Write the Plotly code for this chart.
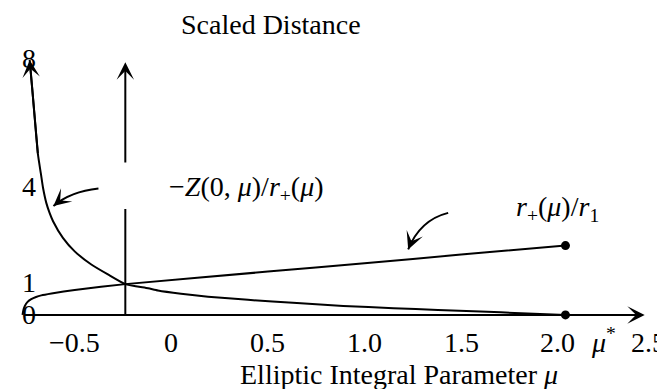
import plotly.graph_objects as go

# ---------------- data ----------------
mu_r = [-0.77, -0.766, -0.758, -0.745, -0.725, -0.70, -0.673, -0.62, -0.50, -0.238, 0.5, 1.0, 1.5, 2.04]
r_plus_ratio = [0.0, 0.14, 0.28, 0.40, 0.49, 0.56, 0.61, 0.67, 0.78, 0.96, 1.35, 1.61, 1.88, 2.16]

mu_z = [-0.733, -0.719, -0.705, -0.690, -0.675, -0.664, -0.647, -0.630, -0.612, -0.561, -0.500,
        -0.414, -0.328, -0.238, -0.12, -0.069, 0.05, 0.19, 0.397, 0.65, 0.89, 1.15, 1.38, 1.60, 1.81, 2.04]
z_scaled = [7.94, 7.00, 6.00, 4.99, 4.40, 3.96, 3.49, 3.18, 2.92, 2.40, 1.98,
            1.57, 1.26, 0.96, 0.83, 0.76, 0.66, 0.57, 0.47, 0.37, 0.28, 0.21, 0.155, 0.105, 0.055, 0.0]

x_tick_vals = [-0.5, 0, 0.5, 1.0, 1.5, 2.0, 2.5]
x_tick_text = ["\u22120.5", "0", "0.5", "1.0", "1.5", "2.0", "2.5"]
y_tick_vals = [0, 1, 4, 8]
y_tick_text = ["0", "1", "4", "8"]

axis_mu = -0.238          # position of the vertical axis
x_axis_start, x_axis_end = -0.77, 2.45
y_axis_top = 7.87
y_gap = (3.30, 4.70)      # gap in the vertical axis around the label

FONT = "Liberation Serif"
FS = 28
BLACK = "black"

W, H, L, R, T, B = 665, 389, 1, 9, 34, 66
PH = H - T - B


def paper_y(px):
    return (H - B - px) / PH


fig = go.Figure()

fig.add_trace(go.Scatter(x=mu_r, y=r_plus_ratio, mode="lines",
                         line=dict(color=BLACK, width=2, shape="spline", smoothing=0.5),
                         cliponaxis=False, hoverinfo="skip"))
fig.add_trace(go.Scatter(x=mu_z, y=z_scaled, mode="lines",
                         line=dict(color=BLACK, width=2, shape="spline", smoothing=0.5),
                         cliponaxis=False, hoverinfo="skip"))
fig.add_trace(go.Scatter(x=[mu_r[-1], mu_z[-1]], y=[r_plus_ratio[-1], z_scaled[-1]], mode="markers",
                         marker=dict(color=BLACK, size=9), cliponaxis=False, hoverinfo="skip"))

ann = []
shapes = []


def arrow(xh, yh, xt, yt, **kw):
    d = dict(x=xh, y=yh, ax=xt, ay=yt, xref="x", yref="y", axref="x", ayref="y",
             text="", showarrow=True, arrowhead=3, arrowwidth=2, arrowsize=1.45,
             arrowcolor=BLACK, standoff=0, startstandoff=0)
    d.update(kw)
    return d


# x axis with arrow
ann.append(arrow(x_axis_end, 0, x_axis_start, 0))
# vertical axis: lower segment + upper segment with arrow
shapes.append(dict(type="line", xref="x", yref="y", x0=axis_mu, x1=axis_mu, y0=0, y1=y_gap[0],
                   line=dict(color=BLACK, width=2)))
ann.append(arrow(axis_mu, y_axis_top, axis_mu, y_gap[1]))
# arrowhead at top of the -Z curve
ann.append(arrow(mu_z[0], z_scaled[0], mu_z[3], z_scaled[3]))

# curved pointer arrows (quadratic Bezier) in data coordinates
curved = [
    ((-0.377, 3.935), (-0.522, 3.84), (-0.61, 3.39)),
    ((1.433, 3.178), (1.288, 2.96), (1.226, 2.04)),
]
for (sx, sy), (cx, cy), (ex, ey) in curved:
    shapes.append(dict(type="path", xref="x", yref="y",
                       path=f"M {sx},{sy} Q {cx},{cy} {ex},{ey}",
                       line=dict(color=BLACK, width=2)))
    tx = ex + (cx - ex) * 0.35
    ty = ey + (cy - ey) * 0.35
    ann.append(arrow(ex, ey, tx, ty))

txt_font = dict(family=FONT, size=FS, color=BLACK)


def label(x, y, text, yref="y", **kw):
    d = dict(x=x, y=y, xref="x", yref=yref, text=text, showarrow=False,
             font=txt_font, xanchor="center", yanchor="middle")
    d.update(kw)
    return d


# y tick labels
for v, t in zip(y_tick_vals, y_tick_text):
    ann.append(label(-0.737, v, t))

# x tick labels
for i, (v, t) in enumerate(zip(x_tick_vals, x_tick_text)):
    ann.append(label(v, paper_y(334.5), t, yref="paper",
                     xshift=-6 if i == len(x_tick_vals) - 1 else 0))

# text labels
ann.append(label(0.388, 3.93,
                 "\u2212<i>Z</i>(0, <i>\u03bc</i>)/<i>r</i><sub>+</sub>(<i>\u03bc</i>)"))
ann.append(label(2.0, 3.33, "<i>r</i><sub>+</sub>(<i>\u03bc</i>)/<i>r</i><sub>1</sub>"))
ann.append(label(2.235, paper_y(332), "<i>\u03bc</i><sup>*</sup>", yref="paper"))
ann.append(label(0.516, paper_y(17), "Scaled Distance", yref="paper"))
ann.append(label(1.18, paper_y(366), "Elliptic Integral Parameter <i>\u03bc</i>", yref="paper"))

fig.update_layout(
    width=W, height=H,
    margin=dict(l=L, r=R, t=T, b=B),
    paper_bgcolor="white", plot_bgcolor="white",
    showlegend=False,
    xaxis=dict(range=[-0.84, 2.55], showgrid=False, zeroline=False, showline=False,
               showticklabels=False, ticks=""),
    yaxis=dict(range=[-0.5, 8.5], showgrid=False, zeroline=False, showline=False,
               showticklabels=False, ticks=""),
    annotations=ann, shapes=shapes,
)

fig.write_html("out.html")
